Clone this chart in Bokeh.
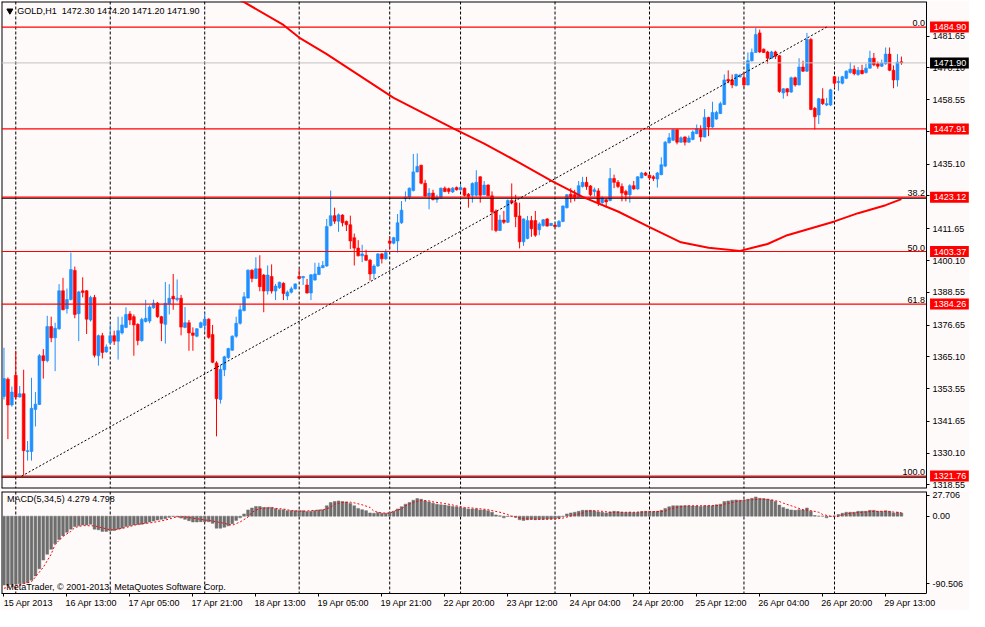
from bokeh.plotting import figure
from bokeh.models import (Range1d, Span, FixedTicker, ColumnDataSource,
                          PrintfTickFormatter, LinearAxis)
from bokeh.layouts import column
from bokeh.embed import file_html
from bokeh.resources import INLINE
from bokeh.core.properties import value

# ---------------- data ----------------
opens = [
    1350.7, 1357.0, 1347.6, 1358.4, 1350.5, 1351.7, 1330.7, 1330.7, 1346.0, 1347.8,
    1365.5, 1363.7, 1376.1, 1372.0, 1375.3, 1389.1, 1382.6, 1385.9, 1396.5, 1380.8,
    1389.1, 1389.1, 1378.5, 1386.7, 1365.5, 1372.8, 1366.9, 1370.2, 1372.8, 1370.8,
    1373.8, 1375.8, 1380.7, 1379.7, 1376.9, 1371.0, 1377.9, 1378.1, 1382.9, 1384.6,
    1379.7, 1376.9, 1384.4, 1387.1, 1385.9, 1386.4, 1375.8, 1377.5, 1373.8, 1372.6,
    1375.8, 1376.5, 1378.8, 1373.2, 1362.9, 1349.6, 1360.4, 1364.9, 1367.5, 1372.6,
    1377.3, 1381.9, 1386.5, 1396.6, 1393.6, 1397.1, 1394.8, 1389.0, 1394.3, 1389.0,
    1390.2, 1391.8, 1387.2, 1388.6, 1389.8, 1394.3, 1393.8, 1391.2, 1388.3, 1393.0,
    1395.0, 1397.5, 1398.1, 1412.8, 1416.4, 1414.4, 1416.6, 1414.3, 1413.1, 1408.4,
    1404.6, 1401.8, 1402.0, 1400.2, 1395.4, 1398.1, 1402.5, 1400.7, 1407.2, 1406.4,
    1407.2, 1413.8, 1422.6, 1423.1, 1425.5, 1432.3, 1434.7, 1428.2, 1423.5, 1424.6,
    1422.3, 1422.9, 1426.4, 1426.2, 1425.0, 1426.6, 1425.8, 1426.4, 1424.2, 1423.8,
    1423.8, 1430.5, 1424.0, 1427.5, 1423.6, 1418.1, 1411.0, 1414.8, 1414.0, 1421.9,
    1421.1, 1416.3, 1406.9, 1408.1, 1414.6, 1414.6, 1411.3, 1412.8, 1415.2, 1412.8,
    1413.0, 1412.4, 1414.3, 1419.3, 1424.2, 1424.0, 1423.1, 1427.0, 1428.5, 1427.2,
    1425.2, 1425.4, 1421.1, 1422.2, 1421.9, 1429.9, 1428.5, 1427.0, 1425.2, 1424.0,
    1427.3, 1426.1, 1430.1, 1431.9, 1431.1, 1430.5, 1429.7, 1431.3, 1434.4, 1442.9,
    1443.8, 1447.6, 1443.1, 1445.0, 1443.1, 1444.1, 1446.2, 1447.6, 1445.0, 1452.1,
    1448.6, 1451.5, 1453.5, 1456.8, 1465.9, 1465.7, 1463.7, 1466.9, 1466.5, 1463.9,
    1472.7, 1475.7, 1482.8, 1476.9, 1475.9, 1473.6, 1475.9, 1474.5, 1461.0, 1462.5,
    1461.3, 1466.5, 1463.9, 1470.4, 1468.9, 1480.4, 1455.4, 1453.0, 1458.8, 1456.6,
    1456.6, 1466.9, 1464.8, 1464.5, 1466.3, 1468.4, 1469.6, 1467.7, 1469.2, 1468.4,
    1470.0, 1473.6, 1471.6, 1470.7, 1471.6, 1475.1, 1469.2, 1465.7, 1472.3,
]
highs = [
    1368.4, 1357.6, 1354.3, 1367.3, 1354.5, 1360.4, 1334.5, 1357.5, 1352.3, 1366.1,
    1367.9, 1380.0, 1379.7, 1377.5, 1391.5, 1393.8, 1389.9, 1403.0, 1397.9, 1389.1,
    1394.0, 1389.3, 1387.3, 1387.6, 1373.2, 1373.8, 1369.6, 1376.7, 1374.6, 1379.7,
    1379.7, 1383.1, 1381.7, 1380.5, 1377.3, 1379.3, 1385.8, 1383.8, 1385.9, 1385.0,
    1380.0, 1392.3, 1391.5, 1395.2, 1393.2, 1387.6, 1383.2, 1378.5, 1375.8, 1375.5,
    1377.9, 1381.1, 1379.1, 1376.7, 1363.5, 1362.3, 1365.5, 1368.4, 1372.9, 1379.7,
    1383.9, 1388.6, 1396.9, 1396.9, 1401.3, 1402.0, 1395.2, 1398.3, 1398.7, 1391.6,
    1392.4, 1392.2, 1389.2, 1390.6, 1391.8, 1396.9, 1394.5, 1393.4, 1395.2, 1399.3,
    1399.3, 1399.9, 1415.2, 1425.5, 1419.3, 1417.2, 1416.9, 1414.6, 1416.4, 1409.9,
    1407.5, 1405.8, 1404.0, 1400.7, 1398.7, 1402.8, 1402.8, 1404.2, 1409.0, 1408.7,
    1417.0, 1421.7, 1425.2, 1426.6, 1438.8, 1439.0, 1434.9, 1429.4, 1426.4, 1425.8,
    1424.0, 1426.6, 1427.0, 1426.6, 1426.8, 1427.0, 1427.8, 1426.6, 1424.6, 1428.5,
    1432.9, 1430.7, 1429.0, 1427.8, 1425.2, 1418.7, 1416.7, 1418.1, 1422.3, 1428.1,
    1424.0, 1421.1, 1415.4, 1416.3, 1416.3, 1418.1, 1414.0, 1415.2, 1415.5, 1413.7,
    1413.4, 1414.8, 1420.1, 1424.2, 1426.4, 1425.8, 1429.0, 1430.5, 1430.5, 1427.5,
    1426.6, 1426.4, 1423.4, 1422.6, 1433.7, 1431.3, 1429.3, 1428.1, 1425.8, 1427.8,
    1429.0, 1430.7, 1432.3, 1432.3, 1431.3, 1431.1, 1432.3, 1437.6, 1443.5, 1446.4,
    1447.8, 1447.8, 1445.2, 1445.2, 1445.5, 1447.4, 1449.5, 1449.2, 1455.1, 1452.3,
    1457.8, 1454.5, 1457.8, 1467.7, 1469.2, 1467.7, 1468.0, 1468.0, 1468.6, 1475.7,
    1477.1, 1484.6, 1484.0, 1477.1, 1476.3, 1476.3, 1476.3, 1474.8, 1462.7, 1462.7,
    1466.9, 1466.9, 1473.6, 1472.7, 1482.8, 1481.0, 1455.9, 1459.2, 1462.7, 1459.2,
    1462.5, 1467.2, 1466.9, 1467.2, 1469.2, 1472.2, 1471.0, 1470.4, 1471.2, 1471.6,
    1476.3, 1475.5, 1472.4, 1473.1, 1477.5, 1477.5, 1471.0, 1475.1, 1474.2,
]
lows = [
    1349.6, 1335.2, 1347.0, 1349.6, 1350.3, 1322.2, 1327.4, 1327.4, 1339.8, 1347.6,
    1357.2, 1363.1, 1370.4, 1359.9, 1374.9, 1382.0, 1380.8, 1385.6, 1379.1, 1370.8,
    1386.7, 1373.4, 1377.9, 1364.9, 1361.9, 1364.5, 1366.6, 1369.6, 1369.4, 1364.1,
    1373.2, 1375.5, 1376.7, 1365.5, 1369.3, 1370.6, 1377.6, 1377.3, 1382.6, 1379.3,
    1370.8, 1369.9, 1380.5, 1382.2, 1385.2, 1372.9, 1375.5, 1367.3, 1367.3, 1372.2,
    1375.5, 1374.3, 1371.7, 1362.8, 1336.2, 1348.1, 1358.1, 1364.3, 1367.3, 1372.0,
    1376.8, 1381.6, 1386.3, 1392.2, 1393.4, 1388.9, 1381.3, 1387.7, 1388.1, 1385.7,
    1389.8, 1385.7, 1385.7, 1388.1, 1389.6, 1393.4, 1391.2, 1388.1, 1385.7, 1392.8,
    1394.8, 1397.3, 1397.8, 1412.5, 1413.4, 1410.5, 1412.5, 1410.8, 1404.3, 1398.3,
    1401.6, 1399.5, 1399.9, 1392.8, 1393.4, 1397.8, 1399.0, 1400.4, 1404.2, 1406.0,
    1403.0, 1413.4, 1421.5, 1422.3, 1425.2, 1432.1, 1427.8, 1423.1, 1418.7, 1421.9,
    1421.1, 1422.6, 1424.9, 1424.3, 1424.6, 1425.5, 1425.5, 1423.4, 1419.3, 1421.1,
    1423.4, 1421.1, 1423.8, 1423.4, 1411.0, 1410.4, 1410.8, 1413.4, 1413.7, 1420.5,
    1412.2, 1404.5, 1405.4, 1407.8, 1408.7, 1408.7, 1409.3, 1412.4, 1412.4, 1412.6,
    1412.2, 1412.2, 1414.0, 1419.0, 1421.1, 1421.6, 1422.8, 1426.6, 1425.8, 1423.4,
    1423.4, 1419.9, 1420.7, 1419.3, 1421.6, 1426.4, 1426.4, 1421.6, 1421.6, 1421.1,
    1425.8, 1425.8, 1429.9, 1430.8, 1429.3, 1429.0, 1426.6, 1431.1, 1434.0, 1442.6,
    1443.5, 1442.3, 1442.9, 1441.9, 1442.9, 1443.8, 1446.0, 1443.3, 1444.8, 1445.3,
    1448.3, 1451.2, 1453.3, 1456.6, 1464.5, 1462.7, 1463.3, 1466.5, 1463.0, 1463.7,
    1472.4, 1475.5, 1475.5, 1475.5, 1471.6, 1473.3, 1473.3, 1461.0, 1458.9, 1459.8,
    1461.0, 1463.3, 1463.7, 1468.6, 1468.6, 1454.7, 1447.7, 1449.7, 1456.6, 1456.2,
    1456.2, 1462.7, 1461.8, 1464.1, 1466.0, 1468.0, 1467.4, 1467.2, 1467.7, 1468.0,
    1469.8, 1470.7, 1469.8, 1470.4, 1471.2, 1468.9, 1462.7, 1463.3, 1471.2,
]
closes = [
    1357.2, 1347.6, 1352.3, 1350.5, 1351.7, 1331.0, 1331.0, 1346.4, 1347.9, 1365.5,
    1363.7, 1376.1, 1372.0, 1375.5, 1389.1, 1382.2, 1385.9, 1396.8, 1380.5, 1388.7,
    1388.5, 1378.8, 1386.7, 1365.7, 1372.8, 1366.7, 1368.7, 1372.8, 1370.8, 1374.6,
    1376.7, 1380.5, 1378.5, 1376.7, 1371.0, 1378.7, 1379.1, 1383.2, 1384.6, 1379.7,
    1377.3, 1384.6, 1386.4, 1386.1, 1386.4, 1375.9, 1377.5, 1373.8, 1372.9, 1375.3,
    1377.5, 1378.8, 1372.2, 1363.1, 1349.9, 1360.5, 1365.1, 1368.1, 1372.6, 1377.3,
    1382.2, 1386.9, 1396.6, 1393.6, 1397.1, 1390.6, 1389.0, 1394.8, 1389.0, 1390.8,
    1392.2, 1388.1, 1388.6, 1389.8, 1391.6, 1393.6, 1394.3, 1388.3, 1394.9, 1395.2,
    1397.7, 1398.3, 1412.5, 1416.4, 1414.4, 1416.7, 1413.8, 1413.1, 1407.2, 1404.6,
    1401.8, 1402.5, 1400.2, 1395.2, 1398.1, 1402.5, 1400.7, 1403.0, 1406.4, 1408.4,
    1413.8, 1418.4, 1423.1, 1426.4, 1432.3, 1434.3, 1428.2, 1423.5, 1424.6, 1422.3,
    1422.9, 1426.4, 1425.2, 1425.2, 1426.4, 1425.8, 1426.6, 1423.8, 1423.4, 1428.1,
    1428.5, 1423.8, 1427.5, 1423.6, 1417.7, 1411.0, 1414.8, 1414.0, 1421.9, 1421.1,
    1416.0, 1406.9, 1415.2, 1414.6, 1411.6, 1409.3, 1413.4, 1414.9, 1412.6, 1413.6,
    1412.4, 1414.3, 1419.9, 1424.0, 1423.1, 1423.1, 1427.3, 1428.5, 1427.0, 1424.0,
    1425.8, 1421.1, 1422.8, 1421.4, 1429.9, 1428.5, 1427.0, 1424.6, 1424.0, 1427.3,
    1426.1, 1430.5, 1431.9, 1431.1, 1430.1, 1429.9, 1431.9, 1434.9, 1443.1, 1444.7,
    1447.6, 1443.1, 1444.7, 1443.1, 1444.6, 1446.8, 1448.0, 1445.0, 1452.1, 1448.6,
    1453.9, 1453.9, 1457.1, 1465.7, 1465.3, 1463.9, 1467.7, 1467.4, 1463.9, 1472.7,
    1475.7, 1482.2, 1475.9, 1475.7, 1473.6, 1475.9, 1474.3, 1461.5, 1462.5, 1461.3,
    1466.5, 1463.9, 1470.4, 1468.9, 1480.4, 1455.0, 1452.3, 1458.9, 1457.1, 1457.1,
    1462.1, 1464.5, 1465.1, 1466.9, 1468.9, 1469.6, 1468.0, 1469.2, 1468.0, 1470.0,
    1473.6, 1471.2, 1470.7, 1471.9, 1475.1, 1469.2, 1465.7, 1472.2, 1471.9,
]

# moving average (red curve), read at a set of bars
ma_bars = [60, 61, 71, 75, 82, 99, 114, 122, 131, 139, 147, 156, 164, 172,
           179, 187, 194, 199, 211, 217, 224, 228]
ma_vals = [1494.6, 1494.0, 1485.7, 1481.1, 1475.1, 1459.2, 1448.2, 1442.6,
           1435.6, 1429.1, 1423.2, 1417.9, 1412.2, 1406.7, 1404.7, 1403.6,
           1406.1, 1409.3, 1414.3, 1417.3, 1420.2, 1422.4]

# Fibonacci retracement
fib_anchor_bars = [4.5, 209]
fib_anchor_prices = [1321.76, 1484.90]
fib_levels = [1484.90, 1423.12, 1403.37, 1384.26, 1321.76]
fib_names = ["0.0", "38.2", "50.0", "61.8", "100.0"]
hlines = [1484.90, 1447.91, 1423.12, 1403.37, 1384.26, 1321.76]
black_hlines = [1423.12, 1321.76]
bid = 1471.90

# MACD(5,34,5)
macd_hist = [
    -92.2, -92.6, -91.7, -90.9, -90.4, -90.0, -89.1, -85.7, -80.0, -70.4,
    -58.7, -50.9, -44.3, -37.0, -31.3, -26.1, -21.7, -17.4, -13.9, -13.0,
    -11.7, -11.7, -10.9, -17.4, -18.3, -20.4, -20.4, -19.6, -19.1, -17.4,
    -16.1, -13.9, -13.0, -11.7, -11.3, -10.9, -9.6, -7.8, -6.5, -5.2,
    -4.3, -3.5, -1.7, -0.4, -0.9, -2.6, -4.3, -6.1, -7.8, -7.8,
    -7.4, -7.4, -7.4, -9.6, -16.1, -16.1, -14.8, -13.0, -10.0, -5.7,
    -2.2, 3.0, 8.3, 10.9, 13.0, 13.0, 11.7, 11.7, 11.7, 10.0,
    8.7, 8.7, 7.4, 7.4, 7.4, 7.4, 7.4, 6.1, 6.5, 7.4,
    8.3, 8.7, 13.9, 18.3, 19.6, 20.4, 19.6, 19.1, 17.0, 13.9,
    10.4, 8.7, 7.4, 4.3, 3.9, 4.8, 3.9, 3.9, 5.2, 6.5,
    9.6, 12.6, 16.1, 18.3, 21.3, 23.5, 22.6, 20.4, 19.1, 17.4,
    16.1, 15.2, 14.8, 13.9, 13.0, 12.6, 11.7, 10.9, 9.6, 9.6,
    9.6, 8.3, 8.3, 7.4, 5.2, 1.7, 0.4, -2.2, -0.4, 0.0,
    -1.3, -4.8, -5.7, -4.8, -4.3, -4.8, -4.3, -4.3, -3.9, -3.9,
    -3.5, -2.6, -0.4, 3.0, 4.3, 5.2, 6.5, 7.8, 7.8, 7.8,
    7.0, 5.7, 5.2, 4.3, 5.7, 6.5, 6.1, 5.2, 4.8, 5.2,
    4.8, 5.2, 6.1, 6.5, 6.5, 6.1, 6.5, 7.8, 10.4, 12.6,
    13.9, 13.9, 13.9, 13.9, 13.9, 13.5, 13.5, 13.0, 13.9, 13.9,
    13.9, 15.2, 16.1, 19.6, 20.4, 21.3, 21.7, 21.3, 21.3, 22.6,
    23.9, 25.7, 23.9, 23.5, 23.0, 21.7, 19.6, 14.8, 11.7, 9.6,
    8.3, 7.8, 8.7, 8.3, 10.9, 6.5, 0.9, 0.0, 0.0, -2.2,
    -0.4, 0.0, 2.2, 3.9, 5.2, 5.2, 5.2, 6.5, 6.5, 6.5,
    7.8, 7.8, 6.5, 6.5, 7.4, 6.5, 4.3, 5.2, 4.3,
]
sig_bars = [0, 7, 8, 10, 12, 13, 15, 17, 18, 20, 23, 27, 28, 31, 34, 38, 41, 44,
            46, 49, 53, 56, 58, 60, 62, 63, 65, 68, 69, 71, 73, 76, 78, 81, 83,
            84, 86, 88, 89, 91, 93, 94, 96, 98, 99, 101, 102, 104, 106, 108,
            109, 112, 115, 117, 120, 123, 124, 126, 128, 129, 131, 132, 135,
            137, 140, 142, 143, 145, 147, 148, 150, 152, 154, 160, 163, 168,
            169, 171, 173, 175, 178, 182, 183, 185, 187, 188, 192, 193, 195,
            197, 198, 200, 202, 203, 205, 207, 208, 210, 212, 213, 215, 217,
            220, 223, 228]
sig_vals = [-96.5, -87.8, -81.3, -68.3, -50.9, -37.8, -27.0, -20.4, -15.2, -12.6,
            -13.0, -18.3, -18.3, -15.2, -10.9, -8.3, -5.2, -0.9, -0.9, -3.5,
            -6.5, -9.6, -12.2, -7.8, -1.3, 5.2, 10.4, 11.3, 10.4, 9.6, 7.4,
            6.5, 7.4, 8.3, 11.7, 16.1, 18.3, 18.7, 17.8, 15.2, 11.7, 6.5, 4.3,
            3.9, 6.5, 9.6, 13.9, 18.3, 21.3, 20.4, 19.1, 17.0, 13.9, 11.7,
            10.4, 8.7, 7.4, 5.2, 2.2, -0.4, -2.2, -3.5, -4.3, -4.3, -3.9,
            -2.6, -1.3, 1.7, 4.3, 6.5, 7.4, 6.5, 5.2, 5.2, 5.7, 6.5, 9.6,
            11.7, 13.5, 13.9, 13.9, 14.3, 16.1, 18.3, 20.4, 21.3, 22.6, 22.6,
            21.7, 19.6, 17.4, 13.9, 10.4, 8.7, 7.4, 5.2, 2.2, 0.0, -0.4, 2.2,
            3.9, 4.8, 6.1, 6.5, 4.8]

# axes
day_start_bars = [3, 27, 51, 75, 98, 116, 140, 164, 188, 211]
time_tick_bars = [0, 16, 32, 48, 64, 80, 96, 112, 128, 144, 160, 176, 192, 208, 224]
time_tick_labels = ["15 Apr 2013", "16 Apr 13:00", "17 Apr 05:00", "17 Apr 21:00",
                    "18 Apr 13:00", "19 Apr 05:00", "19 Apr 21:00", "22 Apr 20:00",
                    "23 Apr 12:00", "24 Apr 04:00", "24 Apr 20:00", "25 Apr 12:00",
                    "26 Apr 04:00", "26 Apr 20:00", "29 Apr 13:00"]
price_ticks = [1481.65, 1470.10, 1458.55, 1447.00, 1435.10, 1423.55, 1411.65,
               1400.10, 1388.55, 1376.65, 1365.10, 1353.55, 1341.65, 1330.10,
               1318.55]
macd_ticks = [27.706, 0.0, -90.506]
macd_tick_labels = ["27.706", "0.00", "-90.506"]

title_text = "GOLD,H1\u00a0 1472.30 1474.20 1471.20 1471.90"
macd_text = "MACD(5,34,5) 4.279 4.798"
copyright_text = "MetaTrader, \u00a9 2001-2013, MetaQuotes Software Corp."

# ---------------- layout / styling constants ----------------
BG = "#FFFAFA"
BULL = "#1E90FF"
BEAR = "#FF0000"
FONT = "Liberation Sans"
FS = "9px"
X0 = -0.625          # left edge of chart area (bars)
AX_X = 234.375       # price axis position (bars)
FRAME_W = 968
X1 = X0 + (AX_X - X0) * FRAME_W / 925.0
PY0, PY1 = 1317.26, 1494.21
MY0, MY1 = -103.5, 33.0
BOX_XC, BOX_W, BOX_TX = 240.2, 9.85, 236.2
LABEL_SHIFT = 6.2    # MT4 draws time labels to the right of their tick


def base_style(p):
    p.background_fill_color = BG
    p.border_fill_color = BG
    p.outline_line_color = None
    p.xgrid.visible = False
    p.ygrid.visible = False
    for ax in p.yaxis:
        ax.fixed_location = AX_X
        ax.axis_line_color = "black"
        ax.major_tick_line_color = "black"
        ax.major_tick_in = 0
        ax.major_tick_out = 3
        ax.minor_tick_line_color = None
        ax.major_label_text_font = FONT
        ax.major_label_text_font_size = FS
        ax.major_label_text_color = "black"
        ax.major_label_standoff = 3
    for b in day_start_bars:
        p.add_layout(Span(location=b, dimension="height", line_color="black",
                          line_dash="3 2", line_width=1, level="underlay"))


# ---------------- price panel ----------------
p1 = figure(x_range=Range1d(X0, X1), y_range=Range1d(PY0, PY1),
            frame_width=FRAME_W, frame_height=487, y_axis_location="right",
            x_axis_location=None, toolbar_location=None, output_backend="svg",
            min_border_left=1, min_border_right=0, min_border_top=1,
            min_border_bottom=2)
base_style(p1)
p1.yaxis.ticker = FixedTicker(ticks=price_ticks)
p1.yaxis.formatter = PrintfTickFormatter(format="%.2f")

# frame border (top, bottom, left)
p1.segment(x0=[X0, X0, X0], y0=[PY1, PY0, PY0], x1=[AX_X, AX_X, X0],
           y1=[PY1, PY0, PY1], line_color="black", line_width=2)

n = len(opens)
bars = list(range(n))
colors = [BULL if c >= o else BEAR for o, c in zip(opens, closes)]
src = ColumnDataSource(dict(
    x=bars, high=highs, low=lows,
    top=[max(o, c) for o, c in zip(opens, closes)],
    bottom=[min(o, c) for o, c in zip(opens, closes)],
    color=colors))
p1.segment(x0="x", y0="low", x1="x", y1="high", line_color="color",
           line_width=1, source=src)
p1.vbar(x="x", top="top", bottom="bottom", width=0.72, fill_color="color",
        line_color="color", line_width=0.6, source=src)

# horizontal lines
p1.segment(x0=[X0], y0=[bid], x1=[AX_X], y1=[bid], line_color="#C0C0C0",
           line_width=1)
p1.segment(x0=[X0] * len(black_hlines), y0=[v - 0.4 for v in black_hlines],
           x1=[AX_X] * len(black_hlines), y1=[v - 0.4 for v in black_hlines],
           line_color="black", line_width=1.2)
p1.segment(x0=[X0] * len(hlines), y0=hlines, x1=[AX_X] * len(hlines),
           y1=hlines, line_color="red", line_width=1.2)

# fib trend line and moving average
p1.line(fib_anchor_bars, fib_anchor_prices, line_color="black",
        line_dash="2 2", line_width=1)
p1.line(ma_bars, ma_vals, line_color="red", line_width=2)

# fib level names
p1.text(x=[234.0] * len(fib_levels), y=fib_levels, text=fib_names,
        text_font=value(FONT), text_font_size=FS, text_color="black",
        text_align="right", text_baseline="bottom", y_offset=-1)

# title
p1.scatter(x=[1.5], y=[1490.85], marker="inverted_triangle", size=6,
           color="black")
p1.text(x=[3.4], y=[1490.8], text=[title_text], text_font=value(FONT),
        text_font_size=FS, text_color="black", text_baseline="middle")

# price boxes on the axis (drawn above the axis)
box_prices = hlines + [bid]
box_colors = ["red"] * len(hlines) + ["black"]
r1 = p1.rect(x=[BOX_XC] * len(box_prices), y=box_prices, width=BOX_W,
             height=11, height_units="screen", fill_color=box_colors,
             line_color=None)
r1.level = "overlay"
r2 = p1.text(x=[BOX_TX] * len(box_prices), y=box_prices,
             text=[f"{v:.2f}" for v in box_prices], text_font=value(FONT),
             text_font_size=FS, text_color="white", text_baseline="middle")
r2.level = "overlay"

# ---------------- MACD panel ----------------
p2 = figure(x_range=p1.x_range, y_range=Range1d(MY0, MY1),
            frame_width=FRAME_W, frame_height=102, y_axis_location="right",
            toolbar_location=None, output_backend="svg",
            min_border_left=1, min_border_right=0, min_border_top=1,
            min_border_bottom=0)
base_style(p2)
p2.yaxis.ticker = FixedTicker(ticks=macd_ticks)
p2.yaxis.major_label_overrides = {t: l for t, l in zip(macd_ticks, macd_tick_labels)}

p2.segment(x0=[X0, X0], y0=[MY1, MY0], x1=[AX_X, X0], y1=[MY1, MY1],
           line_color="black", line_width=2)

# tick marks of the time axis (labels are drawn by the axis below it)
xa = p2.xaxis[0]
xa.ticker = FixedTicker(ticks=time_tick_bars)
xa.bounds = (X0, AX_X)
xa.axis_line_color = "black"
xa.major_tick_line_color = "black"
xa.major_tick_in = 0
xa.major_tick_out = 3
xa.minor_tick_line_color = None
xa.major_label_text_color = None
xa.major_label_text_font_size = "1px"
xa.major_label_standoff = 0

label_pos = [t + LABEL_SHIFT for t in time_tick_bars]
xlab = LinearAxis(ticker=FixedTicker(ticks=label_pos),
                  major_label_overrides={t: l for t, l in zip(label_pos, time_tick_labels)},
                  axis_line_color=None, major_tick_line_color=None,
                  minor_tick_line_color=None, major_tick_in=0, major_tick_out=0,
                  major_label_text_font=FONT, major_label_text_font_size=FS,
                  major_label_text_color="black", major_label_standoff=1)
p2.add_layout(xlab, "below")

p2.vbar(x=bars, top=macd_hist, bottom=0, width=0.7, fill_color="#6E6E6E",
        line_color="#6E6E6E", line_width=0.5)
p2.line(sig_bars, sig_vals, line_color="red", line_dash="2 2", line_width=1)
p2.text(x=[0.8], y=[23.1], text=[macd_text], text_font=value(FONT),
        text_font_size=FS, text_color="black", text_baseline="middle")
p2.text(x=[0.6], y=[-95.3], text=[copyright_text], text_font=value(FONT),
        text_font_size=FS, text_color="black", text_baseline="middle")

layout = column(p1, p2, spacing=0)
open("out.html", "w").write(file_html(layout, INLINE))
